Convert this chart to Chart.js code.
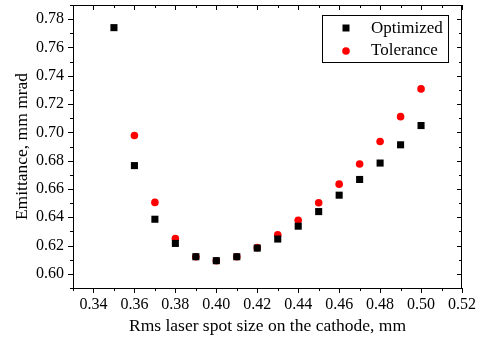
<!DOCTYPE html>
<html>
<head>
<meta charset="utf-8">
<script src="https://cdn.jsdelivr.net/npm/chart.js@4.4.1/dist/chart.umd.min.js"></script>
<style>
  html, body { margin: 0; padding: 0; background: #fff; }
  #wrap { width: 486px; height: 340px; }
</style>
</head>
<body>
<div id="wrap"><canvas id="grafico"></canvas></div>
<script>
// datos
const tamanos = [0.35, 0.36, 0.37, 0.38, 0.39, 0.40, 0.41, 0.42, 0.43, 0.44, 0.45, 0.46, 0.47, 0.48, 0.49, 0.50];
const optimizado = [0.774, 0.6765, 0.6386, 0.6215, 0.6121, 0.6093, 0.6121, 0.6182, 0.6246, 0.6337, 0.644, 0.6556, 0.6667, 0.6783, 0.6912, 0.7048];
const tolerancia = [null, 0.6978, 0.6505, 0.625, 0.6121, 0.6093, 0.6121, 0.6185, 0.6276, 0.6379, 0.6503, 0.6634, 0.6776, 0.6935, 0.7111, 0.7307];

const xTicks = [0.34, 0.36, 0.38, 0.40, 0.42, 0.44, 0.46, 0.48, 0.50, 0.52];
const yTicks = [0.60, 0.62, 0.64, 0.66, 0.68, 0.70, 0.72, 0.74, 0.76, 0.78];

const serif = '"Liberation Serif", "Times New Roman", serif';

function puntos(valores) {
  return tamanos.map((x, i) => ({ x: x, y: valores[i] })).filter(p => p.y !== null);
}

// marco, marcas de ejes y leyenda
const marcoPlugin = {
  id: 'marco',
  afterDraw(chart) {
    const { ctx, chartArea: a, scales } = chart;
    ctx.save();
    ctx.strokeStyle = '#000';
    ctx.lineWidth = 1;
    ctx.strokeRect(a.left + 0.5, a.top + 0.5, a.right - a.left - 1, a.bottom - a.top);

    ctx.beginPath();
    for (let k = 33; k <= 52; k++) {
      const v = k / 100;
      const px = Math.round(scales.x.getPixelForValue(v)) + 0.5;
      const len = k % 2 === 0 ? 5 : 3;
      ctx.moveTo(px, a.bottom); ctx.lineTo(px, a.bottom + len);
      ctx.moveTo(px, a.top); ctx.lineTo(px, a.top + len);
    }
    for (let k = 59; k <= 79; k++) {
      const v = k / 100;
      const py = Math.round(scales.y.getPixelForValue(v)) + 0.5;
      const len = k % 2 === 0 ? 5 : 3;
      ctx.moveTo(a.left, py); ctx.lineTo(a.left - len, py);
      ctx.moveTo(a.right, py); ctx.lineTo(a.right - len, py);
    }
    ctx.stroke();

    // leyenda
    ctx.strokeRect(322.5, 15.5, 126, 47);
    ctx.font = '17px ' + serif;
    ctx.textBaseline = 'middle';
    ctx.fillStyle = '#000';
    ctx.fillRect(346 - 3.5, 28 - 3.5, 7, 7);
    ctx.fillText('Optimized', 371, 29);
    ctx.fillStyle = '#ff0000';
    ctx.beginPath();
    ctx.arc(346, 51, 3.8, 0, Math.PI * 2);
    ctx.fill();
    ctx.fillStyle = '#000';
    ctx.fillText('Tolerance', 371, 51);
    ctx.restore();
  }
};

new Chart(document.getElementById('grafico'), {
  type: 'scatter',
  data: {
    datasets: [
      {
        label: 'Optimized',
        data: puntos(optimizado),
        pointStyle: 'rect',
        pointRadius: 5,
        borderWidth: 0,
        backgroundColor: '#000000'
      },
      {
        label: 'Tolerance',
        data: puntos(tolerancia),
        pointStyle: 'circle',
        pointRadius: 3.8,
        borderWidth: 0,
        backgroundColor: '#ff0000'
      }
    ]
  },
  options: {
    responsive: true,
    maintainAspectRatio: false,
    animation: false,
    layout: { padding: { left: 0, right: 24, top: 3, bottom: 0 } },
    plugins: { legend: { display: false }, tooltip: { enabled: false } },
    scales: {
      x: {
        type: 'linear',
        min: 0.33,
        max: 0.52,
        afterBuildTicks: s => { s.ticks = xTicks.map(v => ({ value: v })); },
        afterFit: s => { s.height = 52; s.paddingLeft = 0; s.paddingRight = 0; },
        grid: { display: false, drawTicks: false },
        border: { display: false },
        ticks: {
          color: '#000',
          padding: 7,
          maxRotation: 0,
          font: { family: serif, size: 16 },
          callback: v => v.toFixed(2)
        },
        title: {
          display: true,
          text: 'Rms laser spot size on the cathode, mm',
          color: '#000',
          font: { family: serif, size: 17.5 },
          padding: { top: 2, bottom: 3 }
        }
      },
      y: {
        type: 'linear',
        min: 0.59,
        max: 0.79,
        afterBuildTicks: s => { s.ticks = yTicks.map(v => ({ value: v })); },
        afterFit: s => { s.width = 73; s.paddingTop = 0; s.paddingBottom = 0; },
        grid: { display: false, drawTicks: false },
        border: { display: false },
        ticks: {
          color: '#000',
          padding: 9,
          font: { family: serif, size: 16 },
          callback: v => v.toFixed(2)
        },
        title: {
          display: true,
          text: 'Emittance, mm mrad',
          color: '#000',
          font: { family: serif, size: 17.5 },
          padding: { top: 12, bottom: 0 }
        }
      }
    }
  },
  plugins: [marcoPlugin]
});
</script>
</body>
</html>
